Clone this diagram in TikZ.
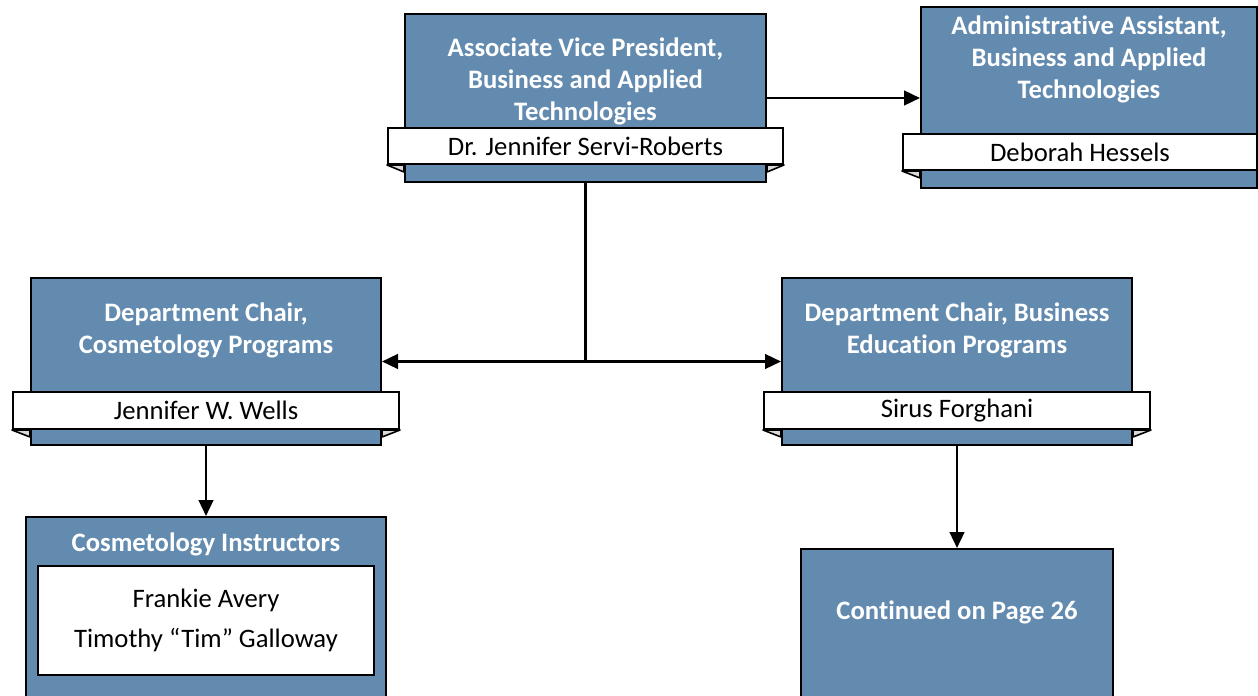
\documentclass[tikz,border=0pt]{standalone}
\usepackage{fontspec}
\setmainfont{Carlito}[Ligatures=NoCommon]
\usetikzlibrary{arrows.meta}
\usetikzlibrary{calc}
\definecolor{steelbox}{RGB}{99,139,175}
\definecolor{foldgray}{RGB}{217,217,217}
\newlength{\px}
\setlength{\px}{0.75pt}
\tikzset{
  orgbox/.style={draw,line width=1.5pt,fill=steelbox,inner sep=0pt},
  nametab/.style={draw,line width=1.5pt,fill=white,inner sep=0pt,font=\fontsize{20}{24}\selectfont},
  boxtitle/.style={text=white,font=\bfseries\fontsize{20}{24}\selectfont,align=center},
  fold/.style={draw,line width=1.2pt,fill=foldgray,line join=round},
  link/.style={line width=1.8pt}
}
\newcommand{\tabfold}[2]{%
  \filldraw[fold] (#1.south west) -- (#2.west |- #1.south) -- ($(#2.west |- #1.south)+(0,7)$) -- cycle;
  \filldraw[fold] (#1.south east) -- (#2.east |- #1.south) -- ($(#2.east |- #1.south)+(0,7)$) -- cycle;}
\begin{document}
\begin{tikzpicture}[line cap=butt,line join=miter,>={Triangle[length=12pt,width=11pt]},x=0.75pt,y=-0.75pt]
\clip (0,0) rectangle (1258,696);
% top row
\node[orgbox,minimum width=361\px,minimum height=168\px] (avp) at (585.5,98) {};
\node[orgbox,minimum width=336\px,minimum height=181\px] (adm) at (1089,97.5) {};
\node[nametab,minimum width=395\px,minimum height=36\px] (avpTab) at (585.5,146) {Dr. Jennifer Servi-Roberts};
\tabfold{avpTab}{avp}
\node[nametab,minimum width=354\px,minimum height=36\px] (admTab) at (1080,152) {Deborah Hessels};
\filldraw[fold] (admTab.south west) -- (adm.west |- admTab.south) -- ($(adm.west |- admTab.south)+(0,7)$) -- cycle;
\node[boxtitle] (avpTitle) at (585.5,81) {Associate Vice President,\\Business and Applied\\Technologies};
\node[boxtitle] (admTitle) at (1089,59) {Administrative Assistant,\\Business and Applied\\Technologies};
% chairs
\node[orgbox,minimum width=350\px,minimum height=167\px] (cos) at (206,361.5) {};
\node[orgbox,minimum width=350\px,minimum height=167\px] (bus) at (957,361.5) {};
\node[nametab,minimum width=386\px,minimum height=37\px] (cosTab) at (206,410.5) {Jennifer W. Wells};
\node[nametab,minimum width=386\px,minimum height=37\px] (busTab) at (957,410.5) {Sirus Forghani};
\tabfold{cosTab}{cos}
\tabfold{busTab}{bus}
\node[boxtitle] (cosTitle) at (206,330) {Department Chair,\\Cosmetology Programs};
\node[boxtitle] (busTitle) at (957,330) {Department Chair, Business\\Education Programs};
% bottom row
\node[orgbox,minimum width=360\px,minimum height=193\px] (ins) at (206,613.5) {};
\node[boxtitle] (insTitle) at (206,544) {Cosmetology Instructors};
\node[nametab,minimum width=336\px,minimum height=109\px,align=center,font=\fontsize{20}{30}\selectfont] (insList) at (206,620) {Frankie Avery\\Timothy “Tim” Galloway};
\node[orgbox,minimum width=312\px,minimum height=161\px] (cont) at (957,629.5) {};
\node[boxtitle] (contTitle) at (957,612) {Continued on Page 26};
% connectors
\coordinate (split) at (avp.south |- cos.center);
\draw[link,->] (avp.east) -- (avp.east -| adm.west);
\draw[link] (avp.south) -- (split);
\draw[link,->] (split) -- (cos.east);
\draw[link,->] (split) -- (bus.west);
\draw[link,->] (cos.south) -- (ins.north);
\draw[link,->] (bus.south) -- (cont.north);
\end{tikzpicture}
\end{document}
